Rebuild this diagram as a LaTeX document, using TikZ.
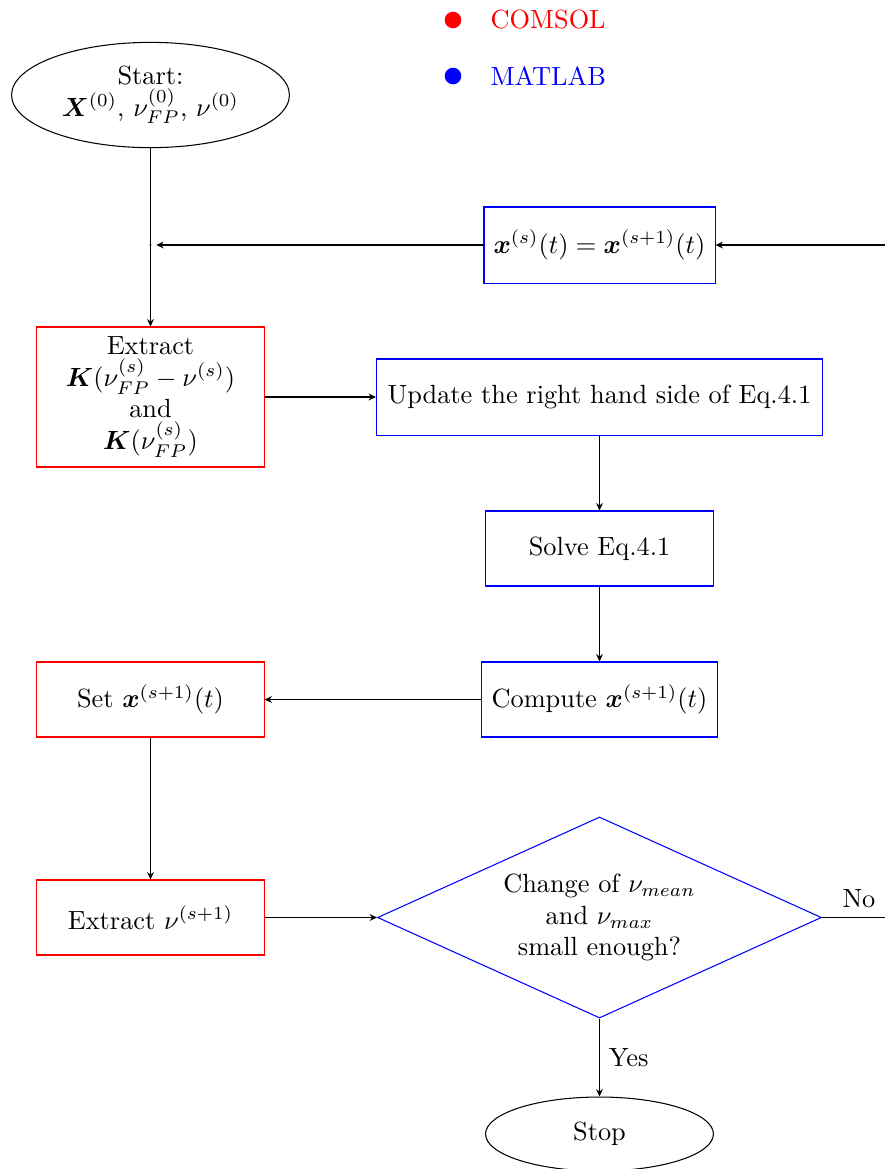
\documentclass[tikz,border=0pt]{standalone}
\usepackage{amsmath,bm}
\usetikzlibrary{shapes.geometric,arrows.meta}
\tikzset{
  comsol/.style={draw=red, rectangle, align=center, inner sep=3pt, minimum width=86.3pt, minimum height=28.5pt},
  matlab/.style={draw=blue, rectangle, align=center, inner sep=3pt, minimum width=86.3pt, minimum height=28.5pt},
  terminal/.style={draw, ellipse, align=center, inner sep=0pt},
  flow/.style={-{Stealth[length=2.8pt,width=2.6pt]}},
  legdot/.style={circle, inner sep=0pt, minimum size=6.3pt},
  legtext/.style={anchor=west, inner sep=0pt},
  junction/.style={circle, fill, inner sep=0pt, minimum size=0.8pt},
}
\begin{document}
\begin{tikzpicture}[x=0.38pt, y=-0.38pt]
\useasboundingbox (0,0) rectangle (885,1169);
\clip (0,0) rectangle (885,1169);

% legend
\node[legdot, fill=red]  (dotc) at (453,20) {};
\node[legtext, text=red] (legc) at (490,20) {COMSOL};
\node[legdot, fill=blue] (dotm) at (453,76) {};
\node[legtext, text=blue] (legm) at (490,76) {MATLAB};

% nodes
\node[terminal, minimum width=105.6pt, minimum height=40pt] (start) at (150.5,95)
  {Start:\\ $\bm{X}^{(0)}$, $\nu_{FP}^{(0)}$, $\nu^{(0)}$};
\node[junction] (jn) at (150.5,245) {};
\node[matlab, minimum width=87.8pt, minimum height=28.9pt] (upd) at (599.5,245)
  {$\bm{x}^{(s)}(t)=\bm{x}^{(s+1)}(t)$};
\node[comsol, minimum height=53.2pt] (extK) at (150.5,397)
  {Extract\\ $\bm{K}(\nu_{FP}^{(s)}-\nu^{(s)})$\\ and\\ $\bm{K}(\nu_{FP}^{(s)})$};
\node[matlab, minimum width=169.5pt, minimum height=28.9pt, inner xsep=4pt] (rhs) at (599.5,397)
  {Update the right hand side of Eq.4.1};
\node[matlab] (solve) at (599.5,548.5) {Solve Eq.4.1};
\node[matlab, minimum width=89.7pt] (comp) at (599.5,699.5) {Compute $\bm{x}^{(s+1)}(t)$};
\node[comsol] (setx) at (150.5,699.5) {Set $\bm{x}^{(s+1)}(t)$};
\node[comsol] (extnu) at (150.5,917.5) {Extract $\nu^{(s+1)}$};
\node[draw=blue, diamond, shape aspect=2.2, inner sep=0pt, align=center,
      minimum width=168.7pt, minimum height=76.4pt] (dec) at (599.5,917.5)
  {Change of $\nu_{mean}$\\ and $\nu_{max}$\\ small enough?};
\node[terminal, minimum width=86.6pt, minimum height=28.1pt] (stop) at (599.5,1134) {Stop};

% connectors
\draw (start.south) -- (jn.center);
\draw[flow] (jn.center) -- (extK.north);
\draw[flow, shorten >=1.6pt] (upd.west) -- (jn);
\draw[flow] (extK.east) -- (rhs.west);
\draw[flow] (rhs.south) -- (solve.north);
\draw[flow] (solve.south) -- (comp.north);
\draw[flow] (comp.west) -- (setx.east);
\draw[flow] (setx.south) -- (extnu.north);
\draw[flow] (extnu.east) -- (dec.west);
\draw[flow] (dec.south) -- node[right] {Yes} (stop.north);
\draw[flow] (dec.east) -- node[above, pos=0.42] {No} (910,917.5) -- (910,245) -- (upd.east);

\end{tikzpicture}
\end{document}
